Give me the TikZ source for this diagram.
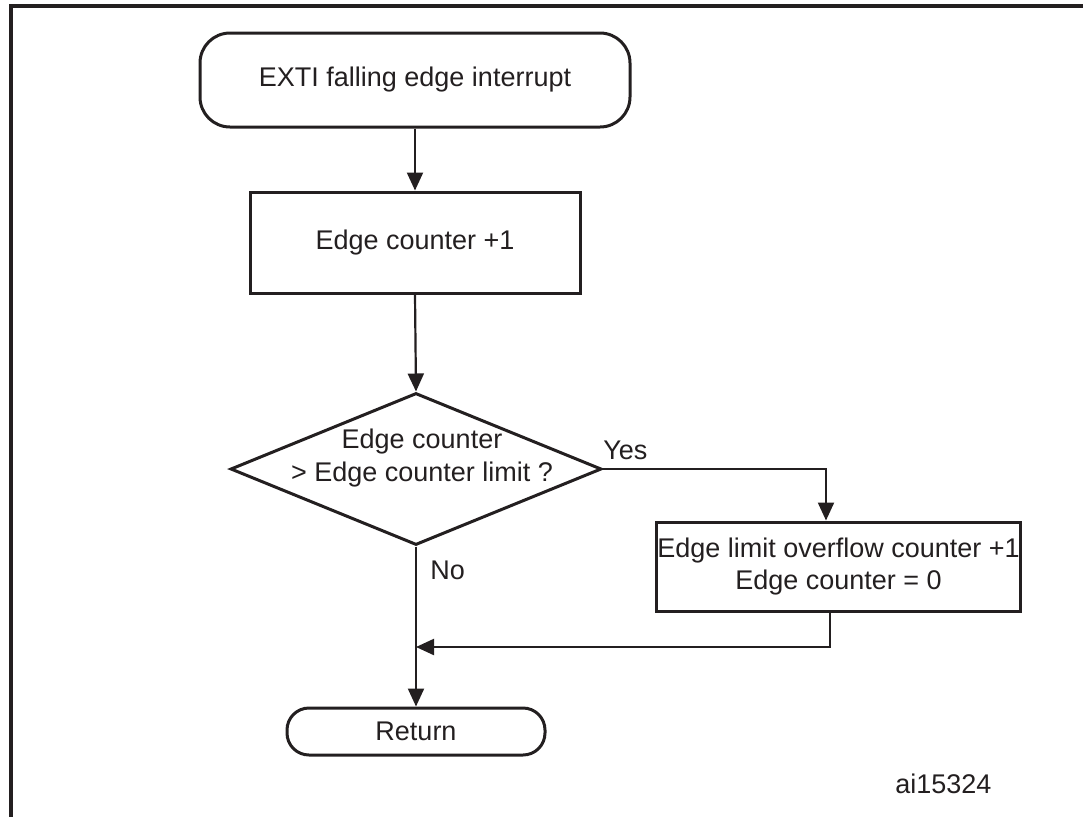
\documentclass[tikz,border=0pt]{standalone}
\usepackage{fontspec}
\setmainfont{Liberation Sans}
\usetikzlibrary{arrows.meta,shapes.geometric}
\definecolor{ink}{HTML}{231F20}
\begin{document}
\begin{tikzpicture}[x=0.5pt,y=-0.5pt,
  font=\fontsize{13.5}{16.2}\selectfont,
  every node/.style={text=ink},
  box/.style={draw=ink, line width=1.5pt, inner sep=0pt, align=center},
  arr/.style={draw=ink, line width=1.1pt, -{Triangle[length=9pt,width=8pt]}},
  conn/.style={draw=ink, line width=1.1pt}]
\useasboundingbox (0,0) rectangle (1083,816);
% frame
\draw[ink, line width=1.9pt] (11,830) -- (11,6) -- (1095,6);
% nodes
\node[box, rounded corners=15pt, minimum width=215pt, minimum height=47pt] (start) at (415,80) {\raisebox{-1.5pt}{EXTI falling edge interrupt}};
\node[box, minimum width=165pt, minimum height=50.5pt] (inc) at (415,242.5) {\raisebox{-1pt}{Edge counter +1}};
\node[box, diamond, minimum width=185.5pt, minimum height=76pt] (dec) at (416,469) {};
\node[align=center, inner sep=0pt] (dect) at (422,458) {Edge counter\\ > Edge counter limit ?};
\node[box, minimum width=182pt, minimum height=44.5pt] (ovf) at (838.5,566.5) {Edge limit overflow counter +1\\Edge counter = 0};
\node[box, rounded corners=11pt, minimum width=129pt, minimum height=23.5pt] (ret) at (416,731.5) {Return};
% labels
\node[anchor=west, inner sep=0pt] (yes) at (603,450) {Yes};
\node[anchor=west, inner sep=0pt] (no) at (430,570) {No};
\node[anchor=west, inner sep=0pt] (id) at (895,784) {ai15324};
% helper coordinates
\coordinate (yx) at (826,469);
\coordinate (rx) at (830,647);
\coordinate (mj) at (416,647);
% connectors
\draw[arr] (start.south) -- (inc.north);
\draw[arr] (inc.south) -- (dec.north);
\draw[arr] (dec.east) -- (yx) -- (yx |- ovf.north);
\draw[arr] (dec.south) -- (ret.north);
\draw[arr] (rx |- ovf.south) -- (rx) -- (mj);
\end{tikzpicture}
\end{document}
